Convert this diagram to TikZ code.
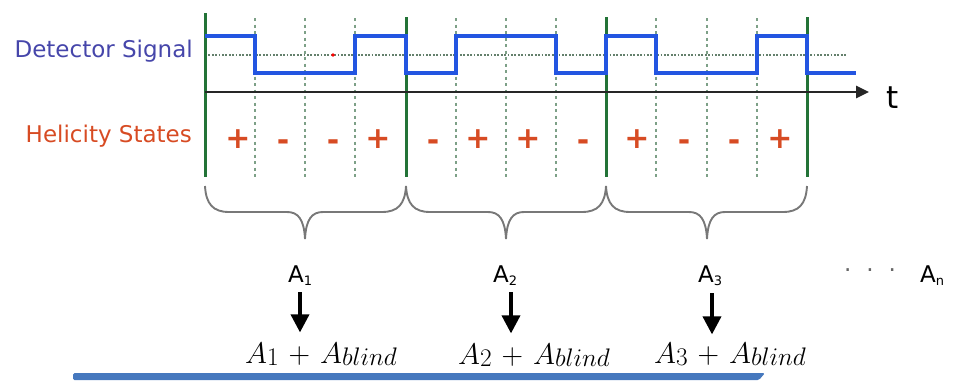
\documentclass[tikz,border=0pt]{standalone}
\usepackage{fontspec}
\setsansfont{DejaVu Sans}
\usetikzlibrary{arrows.meta}
\DeclareMathSizes{24.88}{24.88}{24.88}{20.74}
\definecolor{sigblue}{RGB}{35,85,225}
\definecolor{lblblue}{RGB}{70,70,170}
\definecolor{helred}{RGB}{215,75,35}
\definecolor{divgreen}{RGB}{35,115,55}
\definecolor{dotgreen}{RGB}{125,160,135}
\definecolor{bracegrey}{RGB}{120,120,120}
\definecolor{barblue}{RGB}{70,120,190}
\tikzset{
  lbl/.style={font=\sffamily\fontsize{23}{26}\selectfont, inner sep=0pt, anchor=base east},
  sgn/.style={font=\sffamily\bfseries\fontsize{30}{32}\selectfont, text=helred, inner sep=0pt, anchor=base},
  divider/.style={draw=divgreen, line width=3pt},
  subdiv/.style={draw=dotgreen, line width=2pt, dash pattern=on 3pt off 3.5pt},
  midline/.style={draw=dotgreen!80!black, line width=1.8pt, dash pattern=on 1.8pt off 1.6pt},
  signal/.style={draw=sigblue, line width=3.6pt},
  brc/.style={draw=bracegrey, line width=1.9pt},
  alab/.style={font=\sffamily\fontsize{23}{26}\selectfont, inner sep=0pt, anchor=base west},
  sumlab/.style={font=\fontsize{24.88}{30}\selectfont, inner sep=0pt, anchor=base west},
  bigarrow/.style={draw=black, line width=3.6pt, -{Triangle[width=18pt,length=18pt]}},
}
\newcommand{\mysub}[1]{\raisebox{-0.3ex}{\fontsize{13}{13}\selectfont #1}}
\newcommand{\msub}[1]{\raisebox{-2.4pt}{\scalebox{0.85}{$#1$}}}
\newcommand{\sumtxt}[1]{\scalebox{1.2}{$A\msub{#1}\mskip2mu+\mskip2mu A\msub{blind}$}}
\begin{document}
\begin{tikzpicture}[x=1pt,y=-1pt]
\useasboundingbox (0,0) rectangle (961,383);
% dotted sub-dividers
\foreach \x in {255,305,355,456,506,556,656,707,757}
  \draw[subdiv] (\x,18) -- (\x,177);
% middle dotted line
\draw[midline] (205,55) -- (847,55);
\fill[red] (333,55) circle (1.8);
% solid dividers
\draw[divider] (205,13) -- (205,177);
\foreach \x in {406,606,807}
  \draw[divider] (\x,17) -- (\x,177);
% signal
\draw[signal] (205,36) -- (255,36) -- (255,73) -- (355,73) -- (355,36) -- (406,36) -- (406,73) -- (456,73) -- (456,36) -- (556,36) -- (556,73) -- (606,73) -- (606,36) -- (656,36) -- (656,73) -- (757,73) -- (757,36) -- (807,36) -- (807,73) -- (856,73);
% axis
\coordinate (ax0) at (205,92);
\coordinate (ax1) at (869,92);
\draw[line width=2.6pt, draw=black!85, -{Triangle[width=12pt,length=13pt]}] (ax0) -- (ax1);
\node[font=\sffamily\fontsize{31}{34}\selectfont, inner sep=0pt, anchor=base west] (t) at (886,108) {t};
% labels
\node[lbl, text=lblblue] (det) at (193,57) {Detector Signal};
\node[lbl, text=helred] (hel) at (192,142) {Helicity States};
% helicity signs
\foreach \x/\s/\y [count=\i] in {238/+/148,283/-/150,333/-/150,378/+/148,433/-/150,478/+/148,528/+/148,583/-/150,637/+/148,684/-/150,734/-/150,780/+/148}
  \node[sgn] (s\i) at (\x,\y) {\s};
% braces
\foreach \a/\m/\b in {205/305/406, 406/506/606, 606/707/807}
  \draw[brc] (\a,186) .. controls (\a+1,204) and (\a+8,212) .. (\a+24,212)
     -- (\m-18,212) .. controls (\m-7,212) and (\m-1,219) .. (\m,239)
     .. controls (\m+1,219) and (\m+7,212) .. (\m+18,212)
     -- (\b-24,212) .. controls (\b-8,212) and (\b-1,204) .. (\b,186);
% A labels
\node[alab] (a1) at (288,282) {A\mysub{1}};
\node[alab] (a2) at (493,282) {A\mysub{2}};
\node[alab] (a3) at (698,282) {A\mysub{3}};
\node[font=\sffamily\fontsize{23}{26}\selectfont, text=black!60, inner sep=0pt] (dots) at (870,270) {.\hspace{15pt}.\hspace{15pt}.};
\node[alab] (an) at (920,282) {A\mysub{n}};
% sums
\node[sumlab] (b1) at (245,363) {\sumtxt{1}};
\node[sumlab] (b2) at (458,364) {\sumtxt{2}};
\node[sumlab] (b3) at (654,363) {\sumtxt{3}};
% arrows
\coordinate (t1) at (300,292);
\coordinate (t2) at (511,292);
\coordinate (t3) at (712,293);
\draw[bigarrow] (t1) -- ([yshift=10pt]t1 |- b1.north);
\draw[bigarrow] (t2) -- ([yshift=10pt]t2 |- b2.north);
\draw[bigarrow] (t3) -- ([yshift=8pt]t3 |- b3.north);
% bottom bar
\fill[barblue, rounded corners=1.5pt] (73,373) -- (765,373) -- (759,380) -- (73,380) -- cycle;
\end{tikzpicture}
\end{document}
